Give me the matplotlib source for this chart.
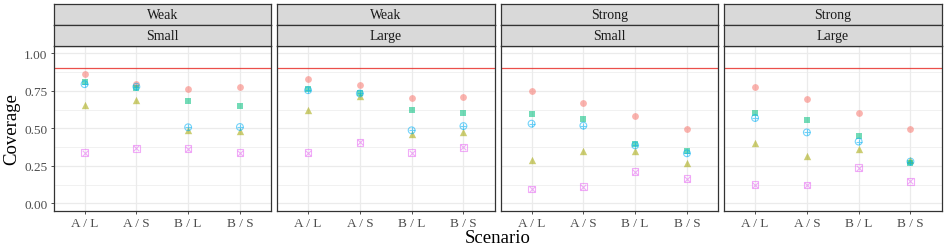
import matplotlib.pyplot as plt
from matplotlib.ticker import FixedLocator

plt.rcParams["font.family"] = ["Liberation Serif", "DejaVu Serif"]

scenarios = ["A / L", "A / S", "B / L", "B / S"]
strip_top = ["Weak", "Weak", "Strong", "Strong"]
strip_bottom = ["Small", "Large", "Small", "Large"]
target = 0.9

# one list per method, one row per panel
red = [[0.865, 0.792, 0.763, 0.777],
       [0.827, 0.788, 0.699, 0.708],
       [0.748, 0.668, 0.582, 0.498],
       [0.772, 0.692, 0.602, 0.493]]
olive = [[0.653, 0.686, 0.489, 0.480],
         [0.624, 0.715, 0.462, 0.476],
         [0.288, 0.352, 0.352, 0.268],
         [0.403, 0.316, 0.363, 0.290]]
green = [[0.810, 0.770, 0.679, 0.648],
         [0.763, 0.732, 0.624, 0.602],
         [0.597, 0.562, 0.394, 0.347],
         [0.600, 0.553, 0.447, 0.270]]
blue = [[0.794, 0.777, 0.507, 0.509],
        [0.754, 0.732, 0.487, 0.515],
        [0.531, 0.518, 0.387, 0.334],
        [0.569, 0.473, 0.412, 0.279]]
magenta = [[0.338, 0.367, 0.365, 0.338],
           [0.338, 0.407, 0.338, 0.374],
           [0.097, 0.113, 0.212, 0.166],
           [0.126, 0.124, 0.239, 0.148]]

W, H = 947, 253
fig = plt.figure(figsize=(W / 100, H / 100), dpi=100)

x = [1, 2, 3, 4]
left0, pw, gap = 53.5, 217.5, 6.0
ptop, pbot = 46.7, 212.0
ALPHA = 0.55
S = 24

for i in range(4):
    lx = left0 + i * (pw + gap)
    ax = fig.add_axes([lx / W, (H - pbot) / H, pw / W, (pbot - ptop) / H])
    ax.set_xlim(0.4, 4.6)
    ax.set_ylim(-0.05, 1.05)
    ax.set_xticks(x)
    ax.set_xticklabels(scenarios)
    ax.set_yticks([0, 0.25, 0.5, 0.75, 1.0])
    ax.yaxis.set_minor_locator(FixedLocator([0.125, 0.375, 0.625, 0.875]))
    ax.grid(True, which="major", color="#EBEBEB", lw=0.9)
    ax.grid(True, which="minor", axis="y", color="#EBEBEB", lw=0.5)
    ax.set_axisbelow(True)
    for sp in ax.spines.values():
        sp.set_color("#333333")
        sp.set_linewidth(0.9)
    ax.tick_params(which="major", length=2.5, width=0.6, color="#333333",
                   labelsize=9.5, labelcolor="#4D4D4D", pad=2)
    ax.tick_params(which="minor", length=0)
    if i == 0:
        ax.set_yticklabels(["0.00", "0.25", "0.50", "0.75", "1.00"])
    else:
        ax.set_yticklabels([])
        ax.tick_params(axis="y", length=0)

    ax.axhline(target, color="#E8302A", lw=0.9, alpha=0.85, zorder=1)

    ax.scatter(x, red[i], marker="o", s=S, color="#F8766D", alpha=ALPHA,
               linewidths=0, zorder=3)
    ax.scatter(x, olive[i], marker="^", s=S + 4, color="#A3A500", alpha=ALPHA,
               linewidths=0, zorder=3)
    ax.scatter(x, green[i], marker="s", s=S - 2, color="#00BF7D", alpha=ALPHA,
               linewidths=0, zorder=3)
    ax.scatter(x, blue[i], marker="o", s=S, facecolors="none",
               edgecolors="#00B0F6", alpha=ALPHA, linewidths=0.8, zorder=3)
    ax.scatter(x, blue[i], marker="+", s=S, color="#00B0F6", alpha=ALPHA,
               linewidths=0.8, zorder=3)
    ax.scatter(x, magenta[i], marker="s", s=S - 2, facecolors="none",
               edgecolors="#E76BF3", alpha=ALPHA, linewidths=0.8, zorder=3)
    ax.scatter(x, magenta[i], marker="x", s=S - 8, color="#E76BF3", alpha=ALPHA,
               linewidths=0.8, zorder=3)

    # facet strips
    for (t0, t1, label) in ((5.0, 25.5, strip_top[i]), (26.0, 46.5, strip_bottom[i])):
        sax = fig.add_axes([lx / W, (H - t1) / H, pw / W, (t1 - t0) / H])
        sax.set_facecolor("#D9D9D9")
        sax.set_xticks([])
        sax.set_yticks([])
        for sp in sax.spines.values():
            sp.set_color("#333333")
            sp.set_linewidth(0.9)
        sax.text(0.5, 0.48, label, ha="center", va="center", fontsize=10,
                 color="#1A1A1A", transform=sax.transAxes)

fig.text(12 / W, 1 - 129 / H, "Coverage", rotation=90, ha="center", va="center",
         fontsize=13.5)
fig.text((left0 + 2 * pw + 1.5 * gap) / W, 1 - 239 / H, "Scenario", ha="center",
         va="center", fontsize=13.5)

fig.savefig("out.png", dpi=100)
